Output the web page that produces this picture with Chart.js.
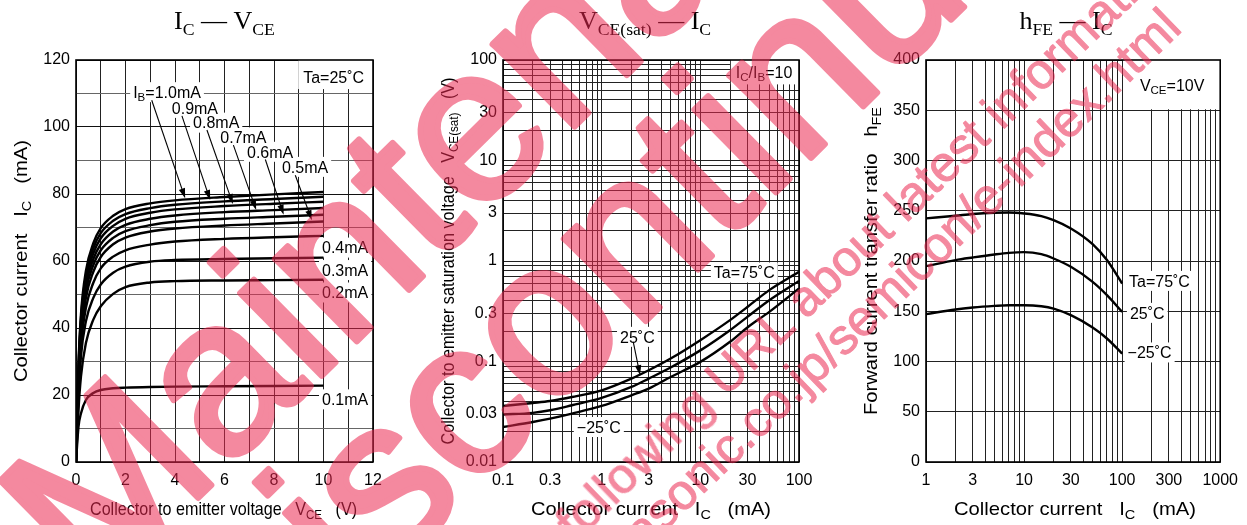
<!DOCTYPE html>
<html>
<head>
<meta charset="utf-8">
<script src="https://cdn.jsdelivr.net/npm/chart.js@4.4.1/dist/chart.umd.min.js"></script>
<style>
html, body { margin: 0; padding: 0; background: #fff; }
#page { position: relative; width: 1247px; height: 525px; overflow: hidden; background: #fff; }
#page canvas { position: absolute; top: 0; }
#mark { position: absolute; left: 0; top: 0; pointer-events: none; }
</style>
</head>
<body>
<div id="page">
  <canvas id="chart_ic_vce" width="415" height="525" style="left:0px"></canvas>
  <canvas id="chart_vce_sat" width="420" height="525" style="left:415px"></canvas>
  <canvas id="chart_hfe" width="412" height="525" style="left:835px"></canvas>
  <svg id="mark" width="1247" height="525" font-family="Liberation Sans, Arial, sans-serif">
    <g opacity="0.55" fill="rgb(235,40,80)" stroke="rgb(235,40,80)" stroke-width="6" stroke-linejoin="round">
      <text x="93.7" y="600.9" font-size="220" transform="rotate(-44.6 93.7 600.9)">Maintenance/</text>
      <text x="243.2" y="717.9" font-size="220" transform="rotate(-44.6 243.2 717.9)">Discontinued</text>
    </g>
    <g opacity="0.55" fill="rgb(235,40,80)" stroke="rgb(235,40,80)" stroke-width="1" stroke-linejoin="round">
      <text x="715.5" y="407.5" font-size="50" text-anchor="end" transform="rotate(-44 715.5 407.5)">Please visit following</text>
      <text x="725.5" y="397.8" font-size="50" transform="rotate(-44 725.5 397.8)">URL about latest information.</text>
      <text x="1183.5" y="30.1" font-size="50" text-anchor="end" transform="rotate(-44 1183.5 30.1)">http://panasonic.co.jp/semicon/e-index.html</text>
    </g>
  </svg>
</div>
<script>
// Ic - Vce  (Ta = 25C), one curve per base current
var vce_points = [0, 0.1, 0.2, 0.4, 0.7, 1, 1.5, 2, 3, 4, 6, 8, 10];
var ic_ib01 = [0, 10.5, 14.5, 18.5, 20.6, 21.5, 22.0, 22.2, 22.4, 22.5, 22.6, 22.7, 22.8];
var ic_ib02 = [0, 15.5, 25.5, 35.5, 42.5, 46.5, 50.2, 52.2, 53.6, 54.0, 54.2, 54.3, 54.4];
var ic_ib03 = [0, 19, 31.5, 42, 49, 53.0, 56.5, 58.3, 59.8, 60.3, 60.6, 60.8, 61.0];
var ic_ib04 = [0, 21, 34.5, 46, 53.5, 57.8, 61.3, 63.2, 64.9, 65.8, 66.6, 67.1, 67.5];
var ic_ib05 = [0, 23, 36.8, 49, 56.8, 61.2, 65.0, 67.0, 68.8, 69.7, 70.6, 71.2, 71.8];
var ic_ib06 = [0, 24.5, 38.5, 51, 58.8, 63.2, 66.9, 68.9, 70.7, 71.7, 72.6, 73.2, 73.8];
var ic_ib07 = [0, 25.8, 40, 52.6, 60.6, 65.0, 68.8, 70.8, 72.6, 73.6, 74.6, 75.2, 75.8];
var ic_ib08 = [0, 27, 41.5, 54.2, 62.3, 66.8, 70.5, 72.6, 74.4, 75.4, 76.4, 77.1, 77.7];
var ic_ib09 = [0, 28, 42.8, 55.6, 63.8, 68.3, 72.0, 74.0, 75.8, 76.8, 77.8, 78.5, 79.2];
var ic_ib10 = [0, 29, 44, 57, 65.3, 69.8, 73.5, 75.5, 77.2, 78.1, 79.1, 79.9, 80.6];
var ib_names = ['0.1mA', '0.2mA', '0.3mA', '0.4mA', '0.5mA', '0.6mA', '0.7mA', '0.8mA', '0.9mA', '1.0mA'];
var icvce_x_labels = [0, 2, 4, 6, 8, 10, 12];
var icvce_y_labels = [0, 20, 40, 60, 80, 100, 120];

// Vce(sat) - Ic  (Ic/Ib = 10)
var sat_ic_points = [0.1, 0.2, 0.3, 0.5, 1, 2, 3, 5, 10, 20, 30, 50, 100];
var vce_sat_75 = [0.0361, 0.0387, 0.0405, 0.0443, 0.0517, 0.0676, 0.0818, 0.107, 0.163, 0.258, 0.349, 0.513, 0.780];
var vce_sat_25 = [0.0297, 0.0308, 0.0327, 0.0367, 0.0434, 0.0558, 0.0676, 0.0871, 0.129, 0.205, 0.278, 0.407, 0.634];
var vce_sat_m25 = [0.0223, 0.0250, 0.0270, 0.0303, 0.0361, 0.0461, 0.0538, 0.0702, 0.0991, 0.157, 0.218, 0.312, 0.533];
var sat_x_labels = [0.1, 0.3, 1, 3, 10, 30, 100];
var sat_y_labels = [0.01, 0.03, 0.1, 0.3, 1, 3, 10, 30, 100];

// hFE - Ic  (Vce = 10V)
var hfe_ic_points = [1, 2, 3, 5, 7, 10, 15, 20, 30, 50, 70, 100];
var hfe_75 = [242.4, 245.0, 246.7, 248.0, 248.3, 247.3, 244.7, 240.7, 232.4, 216.8, 200.9, 177.6];
var hfe_25 = [194.9, 200.9, 203.5, 206.5, 208.1, 208.8, 206.8, 202.5, 194.2, 179.2, 166.0, 149.4];
var hfe_m25 = [147.1, 151.8, 153.7, 155.3, 156.0, 156.0, 155.0, 152.7, 146.1, 133.8, 122.9, 107.9];
var hfe_x_labels = [1, 3, 10, 30, 100, 300, 1000];
var hfe_y_labels = [0, 50, 100, 150, 200, 250, 300, 350, 400];

var SANS = '"Liberation Sans", Arial, Helvetica, sans-serif';
var SERIF = '"Liberation Serif", "Times New Roman", serif';

Chart.defaults.font.family = SANS;
Chart.defaults.color = '#000';

function pairs(xs, ys) {
  return xs.map(function (x, i) { return { x: x, y: ys[i] }; });
}

function step_ticks(min, max, step) {
  var out = [];
  for (var v = min; v <= max + 1e-9; v += step) out.push({ value: Math.round(v * 1e6) / 1e6 });
  return out;
}

function log_ticks(min, max) {
  var out = [];
  var e0 = Math.round(Math.log10(min)), e1 = Math.round(Math.log10(max));
  for (var e = e0; e < e1; e++) {
    for (var m = 1; m < 10; m++) out.push({ value: Number((m * Math.pow(10, e)).toPrecision(3)) });
  }
  out.push({ value: max });
  return out;
}

function pick(list) {
  return function (v) {
    for (var i = 0; i < list.length; i++) {
      if (Math.abs(v - list[i]) <= list[i] * 1e-6 + 1e-12) return String(list[i]);
    }
    return '';
  };
}

function axis(pos, type, min, max, step, labels, size, gridColor) {
  return {
    type: type, position: pos, min: min, max: max,
    border: { display: false },
    grid: { color: gridColor || '#222', lineWidth: 1, drawTicks: false },
    ticks: {
      autoSkip: false, maxRotation: 0, minRotation: 0,
      padding: pos === 'bottom' ? 9 : 6,
      color: '#000', font: { family: SANS, size: 16 },
      callback: pick(labels)
    },
    afterBuildTicks: function (s) {
      s.ticks = type === 'logarithmic' ? log_ticks(min, max) : step_ticks(min, max, step);
    },
    afterFit: function (s) {
      if (pos === 'bottom') s.height = size; else s.width = size;
    }
  };
}

function curve(label, xs, ys) {
  return {
    label: label, data: pairs(xs, ys),
    borderColor: '#000', borderWidth: 2.4, pointRadius: 0, fill: false,
    cubicInterpolationMode: 'monotone'
  };
}

function rich_width(ctx, parts, size, family, sub) {
  var w = 0;
  parts.forEach(function (p) {
    ctx.font = (p[1] ? size * (sub || 0.72) : size) + 'px ' + family;
    w += ctx.measureText(p[0]).width;
  });
  return w;
}

function draw_rich(ctx, parts, x, y, size, family, sub) {
  ctx.textAlign = 'left';
  ctx.textBaseline = 'alphabetic';
  parts.forEach(function (p) {
    ctx.font = (p[1] ? size * (sub || 0.72) : size) + 'px ' + family;
    ctx.fillText(p[0], x, p[1] ? y + size * 0.2 : y);
    x += ctx.measureText(p[0]).width;
  });
}

function note_rect(chart, n) {
  var a = chart.chartArea, sx = chart.scales.x, sy = chart.scales.y;
  var px = sx.getPixelForValue(n.x), py = sy.getPixelForValue(n.y);
  var w = rich_width(chart.ctx, n.parts, 16, SANS);
  if (n.box) {
    var x0 = sx.getPixelForValue(n.box[0]), x1 = sx.getPixelForValue(n.box[1]);
    var y0 = sy.getPixelForValue(n.box[3]), y1 = sy.getPixelForValue(n.box[2]);
    return { x: x0 + 1, y: y0, w: x1 - x0 - 1, h: y1 - y0 - 1 };
  }
  if (n.corner) return { x: px - 5, y: a.top, w: a.right - px + 5, h: py + 12 - a.top };
  return { x: px - 3, y: py - 10, w: w + 6, h: 20 };
}

function draw_arrow(ctx, x0, y0, x1, y1) {
  var ang = Math.atan2(y1 - y0, x1 - x0), L = 10, W = 3.2;
  ctx.beginPath();
  ctx.moveTo(x0, y0);
  ctx.lineTo(x1 - 6 * Math.cos(ang), y1 - 6 * Math.sin(ang));
  ctx.stroke();
  ctx.beginPath();
  ctx.moveTo(x1, y1);
  ctx.lineTo(x1 - L * Math.cos(ang) + W * Math.sin(ang), y1 - L * Math.sin(ang) - W * Math.cos(ang));
  ctx.lineTo(x1 - L * Math.cos(ang) - W * Math.sin(ang), y1 - L * Math.sin(ang) + W * Math.cos(ang));
  ctx.closePath();
  ctx.fill();
}

var sheet_plugin = {
  id: 'sheet',
  beforeDatasetsDraw: function (chart, args, opts) {
    var ctx = chart.ctx;
    ctx.save();
    ctx.fillStyle = '#fff';
    (opts.notes || []).forEach(function (n) {
      var r = note_rect(chart, n);
      ctx.fillRect(r.x, r.y, r.w, r.h);
    });
    ctx.restore();
  },
  afterDatasetsDraw: function (chart, args, opts) {
    var ctx = chart.ctx, a = chart.chartArea, sx = chart.scales.x, sy = chart.scales.y;
    ctx.save();
    ctx.strokeStyle = '#000';
    ctx.lineWidth = 1.6;
    ctx.strokeRect(a.left, a.top, a.right - a.left, a.bottom - a.top);
    ctx.fillStyle = '#000';
    ctx.lineWidth = 1.1;
    (opts.arrows || []).forEach(function (r) {
      draw_arrow(ctx, sx.getPixelForValue(r.from[0]), sy.getPixelForValue(r.from[1]),
        sx.getPixelForValue(r.to[0]), sy.getPixelForValue(r.to[1]));
    });
    (opts.notes || []).forEach(function (n) {
      draw_rich(ctx, n.parts, sx.getPixelForValue(n.x), sy.getPixelForValue(n.y) + 16 * 0.36, 16, SANS);
    });
    ctx.restore();
  },
  afterDraw: function (chart, args, opts) {
    var ctx = chart.ctx;
    (opts.titles || []).forEach(function (t) {
      ctx.save();
      ctx.fillStyle = '#000';
      ctx.translate(t.x, t.y);
      if (t.rot) ctx.rotate(t.rot);
      var w = rich_width(ctx, t.parts, t.size, t.family, t.sub);
      var k = t.fit ? t.fit / w : 1;
      ctx.scale(k, 1);
      draw_rich(ctx, t.parts, -w / 2, t.size * 0.36, t.size, t.family, t.sub);
      ctx.restore();
    });
  }
};
Chart.register(sheet_plugin);

function options(x, y, padRight, sheet) {
  return {
    responsive: false, animation: false, events: [],
    layout: { padding: { top: 60, right: padRight, bottom: 0, left: 0 } },
    scales: { x: x, y: y },
    plugins: { legend: { display: false }, tooltip: { enabled: false }, sheet: sheet }
  };
}

function make_chart_ic_vce() {
  var ctx = document.getElementById('chart_ic_vce').getContext('2d');
  var sets = [ic_ib01, ic_ib02, ic_ib03, ic_ib04, ic_ib05, ic_ib06, ic_ib07, ic_ib08, ic_ib09, ic_ib10];
  return new Chart(ctx, {
    type: 'line',
    data: { datasets: sets.map(function (s, i) { return curve(ib_names[i], vce_points, s); }) },
    options: options(
      axis('bottom', 'linear', 0, 12, 1, icvce_x_labels, 63),
      axis('left', 'linear', 0, 120, 10, icvce_y_labels, 76, function (c) {
        return c.tick && c.tick.value % 20 === 0 ? '#111' : '#666';
      }),
      42,
      {
        notes: [
          { parts: [['Ta=25\u02DAC']], x: 9.18, y: 114.9, corner: true },
          { parts: [['I'], ['B', 1], ['=' + ib_names[9]]], x: 2.31, y: 110.4 },
          { parts: [[ib_names[8]]], x: 3.87, y: 105.7 },
          { parts: [[ib_names[7]]], x: 4.73, y: 101.3 },
          { parts: [[ib_names[6]]], x: 5.83, y: 96.9 },
          { parts: [[ib_names[5]]], x: 6.91, y: 92.6 },
          { parts: [[ib_names[4]]], x: 8.32, y: 88.1 },
          { parts: [[ib_names[3]]], x: 9.94, y: 64.0 },
          { parts: [[ib_names[2]]], x: 9.94, y: 57.3 },
          { parts: [[ib_names[1]]], x: 9.94, y: 50.6 },
          { parts: [[ib_names[0]]], x: 9.94, y: 18.7 }
        ],
        arrows: [
          { from: [3.06, 108.0], to: [4.41, 78.7] },
          { from: [4.28, 103.3], to: [5.42, 78.2] },
          { from: [5.29, 99.1], to: [6.34, 77.0] },
          { from: [6.36, 94.6], to: [7.28, 75.2] },
          { from: [7.65, 90.3], to: [8.39, 73.8] },
          { from: [8.86, 85.6], to: [9.53, 72.2] }
        ],
        titles: [
          { parts: [['I'], ['C', 1], [' \u2014 V'], ['CE', 1]], x: 224.5, y: 20, size: 26, family: SERIF, sub: 0.68 },
          { parts: [['Collector to emitter voltage   V'], ['CE', 1], ['   (V)']], x: 223.5, y: 508, size: 19, family: SANS, fit: 267 },
          { parts: [['Collector current   I'], ['C', 1], ['   (mA)']], x: 20, y: 261, size: 19, family: SANS, rot: -Math.PI / 2, fit: 242 }
        ]
      }
    )
  });
}

function make_chart_vce_sat() {
  var ctx = document.getElementById('chart_vce_sat').getContext('2d');
  return new Chart(ctx, {
    type: 'line',
    data: {
      datasets: [
        curve('Ta=75C', sat_ic_points, vce_sat_75),
        curve('25C', sat_ic_points, vce_sat_25),
        curve('-25C', sat_ic_points, vce_sat_m25)
      ]
    },
    options: options(
      axis('bottom', 'logarithmic', 0.1, 100, 0, sat_x_labels, 63),
      axis('left', 'logarithmic', 0.01, 100, 0, sat_y_labels, 88),
      36,
      {
        notes: [
          { parts: [['I'], ['C', 1], ['/I'], ['B', 1], ['=10']], x: 22.9, y: 75.3, corner: true },
          { parts: [['Ta=75\u02DAC']], x: 13.7, y: 0.769 },
          { parts: [['25\u02DAC']], x: 1.535, y: 0.176 },
          { parts: [['\u221225\u02DAC']], x: 0.56, y: 0.0223 }
        ],
        arrows: [
          { from: [2.09, 0.157], to: [2.45, 0.073] }
        ],
        titles: [
          { parts: [['V'], ['CE(sat)', 1], [' \u2014 I'], ['C', 1]], x: 230, y: 20, size: 26, family: SERIF, sub: 0.68 },
          { parts: [['Collector current   I'], ['C', 1], ['   (mA)']], x: 236, y: 508, size: 19, family: SANS, fit: 240 },
          { parts: [['Collector to emitter saturation voltage   V'], ['CE(sat)', 1], ['   (V)']], x: 32, y: 261, size: 19, family: SANS, rot: -Math.PI / 2, fit: 367 }
        ]
      }
    )
  });
}

function make_chart_hfe() {
  var ctx = document.getElementById('chart_hfe').getContext('2d');
  return new Chart(ctx, {
    type: 'line',
    data: {
      datasets: [
        curve('Ta=75C', hfe_ic_points, hfe_75),
        curve('25C', hfe_ic_points, hfe_25),
        curve('-25C', hfe_ic_points, hfe_m25)
      ]
    },
    options: options(
      axis('bottom', 'logarithmic', 1, 1000, 0, hfe_x_labels, 63),
      axis('left', 'linear', 0, 400, 50, hfe_y_labels, 91),
      24,
      {
        notes: [
          { parts: [['V'], ['CE', 1], ['=10V']], x: 151.7, y: 375, box: [100, 1000, 350, 400] },
          { parts: [['Ta=75\u02DAC']], x: 117.5, y: 180.2 },
          { parts: [['25\u02DAC']], x: 120, y: 148.4 },
          { parts: [['\u221225\u02DAC']], x: 113.7, y: 109 }
        ],
        titles: [
          { parts: [['h'], ['FE', 1], [' \u2014 I'], ['C', 1]], x: 231, y: 20, size: 26, family: SERIF, sub: 0.68 },
          { parts: [['Collector current   I'], ['C', 1], ['   (mA)']], x: 240, y: 508, size: 19, family: SANS, fit: 242 },
          { parts: [['Forward current transfer ratio   h'], ['FE', 1]], x: 35, y: 261, size: 19, family: SANS, rot: -Math.PI / 2, fit: 308 }
        ]
      }
    )
  });
}

var chart_ic = make_chart_ic_vce();
var chart_sat = make_chart_vce_sat();
var chart_hfe = make_chart_hfe();
</script>
</body>
</html>
